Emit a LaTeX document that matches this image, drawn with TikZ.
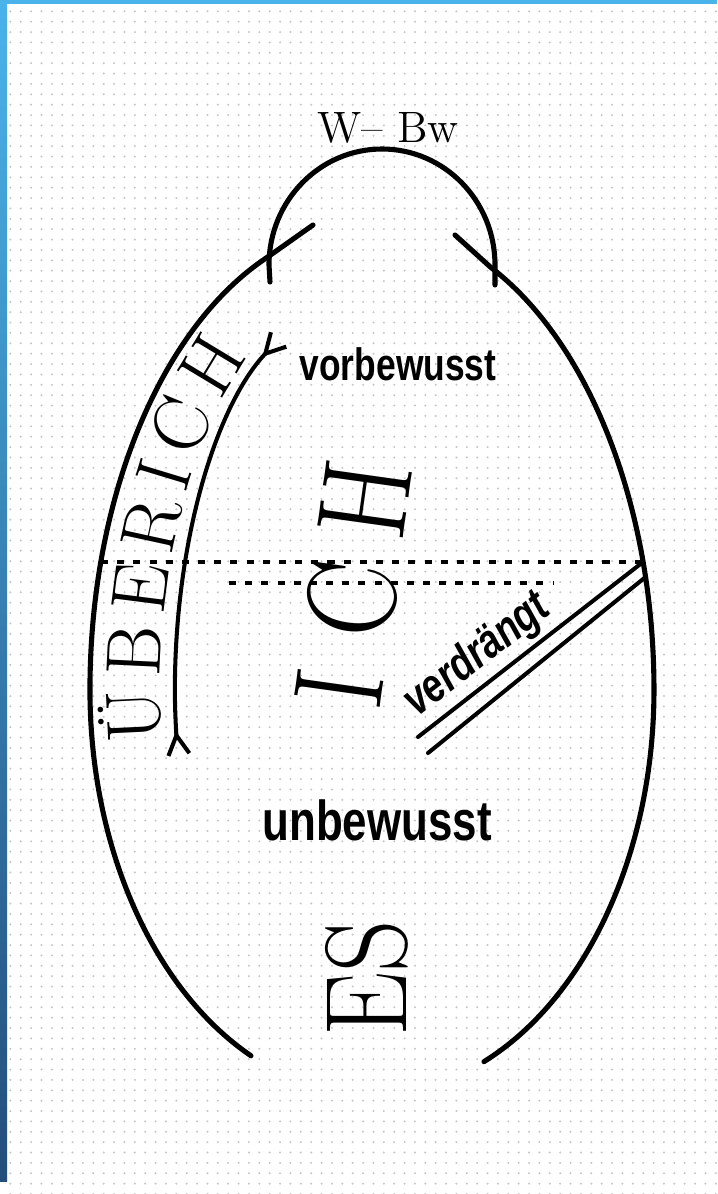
\documentclass[tikz,border=0pt]{standalone}
\usepackage{fontspec}
\usepackage{graphicx}
\usetikzlibrary{arrows.meta, decorations.text, patterns.meta}
\newfontfamily\labelfont[FakeStretch=0.78]{Liberation Sans}
\definecolor{frametop}{HTML}{4AB3EA}
\definecolor{framebot}{HTML}{234E7C}
\providecommand{\bigletters}[2]{%
  \mbox{\scalebox{0.88}[1]{\fontsize{#1}{#1}\selectfont #2}}%
}
\providecommand{\uberfont}{\fontsize{22}{22}\selectfont}

\begin{document}
\begin{tikzpicture}[
  x=0.01cm, y=0.01cm,
  fork/.tip={Straight Barb[reversed, length=5.5pt, width=6pt]},
  outline/.style={line width=1.45pt, line cap=round},
  superego/.style={line width=1.15pt, line cap=round, fork-fork},
  dotline/.style={line width=1.2pt, dash pattern=on 2pt off 2.6pt},
  repress/.style={line width=1.15pt, line cap=round},
  zone/.style={font=\labelfont\bfseries\fontsize{#1}{#1}\selectfont, inner sep=0pt},
  big/.style={inner sep=0pt}
]
\useasboundingbox (0,0) rectangle (717,-1194);

\fill[white] (0,0) rectangle (717,-1194);
\fill[pattern={Dots[distance=2.95pt, radius=0.32pt]}, pattern color=gray!45]
  (7,-4) rectangle (717,-1194);
\shade[top color=frametop, bottom color=framebot] (0,0) rectangle (7,-1181);
\fill[frametop] (0,0) rectangle (717,-4);

\coordinate (egg) at (372,-690);
\draw[outline] (313,-225) -- (267.7,-257)
  arc[start angle=111.7, end angle=180, x radius=282, y radius=466]
  arc[start angle=180, end angle=244.6, x radius=282, y radius=405];
\draw[outline] (455,-235) -- (490.7,-267.3)
  arc[start angle=65.1, end angle=0, x radius=282, y radius=466]
  arc[start angle=0, end angle=-66.6, x radius=282, y radius=405];
\draw[outline] (270,-282) -- (269,-265)
  arc[start angle=180, end angle=0, x radius=113, y radius=116] -- (495,-285);
\node[big, font=\fontsize{12.5}{12.5}\selectfont] (wbw) at (388,-128) {W– Bw};

\draw[superego] (280,-338)
  arc[start angle=117.8, end angle=180, x radius=197, y radius=398]
  arc[start angle=180, end angle=192, x radius=197, y radius=320];
\path[decorate, decoration={text along path, text align={fit to path},
    text={|\uberfont|ÜBERICH}}]
  (162.6,-741.9)
  arc[start angle=189, end angle=180, x radius=212, y radius=332]
  arc[start angle=180, end angle=125.5, x radius=212, y radius=410];

\coordinate (ucl) at (101,-562);
\coordinate (ucr) at (643,-562);
\coordinate (pcl) at (229,-583);
\coordinate (pcr) at (553,-583);
\draw[dotline] (ucl) -- (ucr);
\draw[dotline] (pcl) -- (pcr);

\coordinate (rp1) at (418,-737);
\coordinate (rp2) at (428,-753);
\coordinate (rq2) at (645.6,-577);
\draw[repress] (rp1) -- node[pos=0.34, above=0pt, sloped, inner sep=1pt,
    font=\labelfont\bfseries\itshape\fontsize{13.5}{13.5}\selectfont] (vd) {verdrängt} (ucr);
\draw[repress] (rp2) -- (rq2);

\node[zone=12.9] (vbw) at (398,-364) {vorbewusst};
\node[zone=16] (ubw) at (377,-820) {unbewusst};
\node[big, rotate=82] (ich) at (353.6,-583.6) {\bigletters{36}{I\hspace{11.2pt}C\hspace{8.3pt}H}};
\node[big, rotate=90] (es) at (367,-978) {\bigletters{33}{ES}};
\end{tikzpicture}
\end{document}
